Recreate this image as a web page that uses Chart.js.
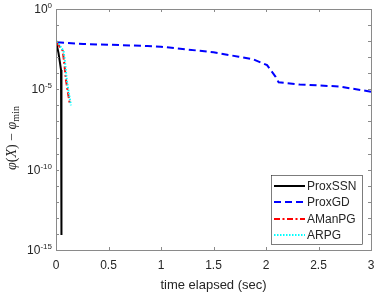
<!DOCTYPE html>
<html><head><meta charset="utf-8">
<script src="https://cdn.jsdelivr.net/npm/chart.js@4"></script>
<style>html,body{margin:0;padding:0;background:#fff;}#wrap{width:374px;height:293px;}</style>
</head><body><div id="wrap"><canvas id="c" width="374" height="293"></canvas></div>
<script>
const seriesNames = ['ProxSSN','ProxGD','AManPG','ARPG'];
const ssnTime = [0.003, 0.024, 0.038, 0.048, 0.051, 0.053];
const ssnGap  = [8.0e-3, 1.8e-3, 4.4e-4, 1.6e-4, 1e-8, 8.7e-15];
const gdTime = [0.01, 0.26, 0.5, 0.87, 1.0, 1.37, 1.5, 1.74, 1.88, 2.01, 2.09, 2.12, 2.32, 2.7, 3.0];
const gdGap  = [8.5e-3, 6.6e-3, 6.0e-3, 5.0e-3, 4.5e-3, 2.5e-3, 2.0e-3, 1.07e-3, 7.4e-4, 3.2e-4, 6.2e-5, 2.75e-5, 2.0e-5, 1.5e-5, 7.1e-6];
const amanTime = [0.005, 0.03, 0.05, 0.064, 0.079, 0.095, 0.117, 0.133];
const amanGap  = [8.0e-3, 5.0e-3, 3.5e-3, 2.5e-3, 4.2e-4, 3.8e-5, 4.5e-6, 1.07e-6];
const arpgTime = [0.01, 0.035, 0.055, 0.072, 0.087, 0.103, 0.125, 0.142];
const arpgGap  = [1e-2, 5.6e-3, 3.5e-3, 2.5e-3, 4.2e-4, 3.8e-5, 4.5e-6, 1e-6];
const xTicks = [0, 0.5, 1, 1.5, 2, 2.5, 3];
const yExponents = [0,-1,-2,-3,-4,-5,-6,-7,-8,-9,-10,-11,-12,-13,-14,-15];
const yLabelExponents = [0,-5,-10,-15];

const pts = (t, v) => t.map((x, i) => ({x, y: v[i]}));
const styles = [
  {color:'#000000', dash:[], width:2},
  {color:'#0000ff', dash:[7,4], width:2},
  {color:'#ff0000', dash:[6,2.5,2,2.5], width:2},
  {color:'#00ffff', dash:[1.5,1.5], width:2}
];
const allData = [pts(ssnTime, ssnGap), pts(gdTime, gdGap), pts(amanTime, amanGap), pts(arpgTime, arpgGap)];

const TXT = '#262626';
const FONT = '"Liberation Sans", Arial, Helvetica, sans-serif';
const axColor = '#8a8a8a';

const deco = {
  id: 'deco',
  afterDraw(chart) {
    const ctx = chart.ctx, a = chart.chartArea;
    const xs = chart.scales.x, ys = chart.scales.y;
    ctx.save();
    ctx.strokeStyle = axColor; ctx.lineWidth = 1;
    ctx.strokeRect(Math.round(a.left)+0.5, Math.round(a.top)+0.5, Math.round(a.right-a.left), Math.round(a.bottom-a.top));
    ctx.beginPath();
    yExponents.forEach(e => {
      const y = Math.round(ys.getPixelForValue(Math.pow(10, e))) + 0.5;
      ctx.moveTo(a.left, y); ctx.lineTo(a.left + 3, y);
      ctx.moveTo(a.right, y); ctx.lineTo(a.right - 3, y);
    });
    xTicks.forEach(v => {
      const x = Math.round(xs.getPixelForValue(v)) + 0.5;
      ctx.moveTo(x, a.bottom); ctx.lineTo(x, a.bottom - 3);
      ctx.moveTo(x, a.top); ctx.lineTo(x, a.top + 3);
    });
    ctx.stroke();
    ctx.fillStyle = TXT;
    ctx.textBaseline = 'alphabetic';
    yLabelExponents.forEach(e => {
      const y = ys.getPixelForValue(Math.pow(10, e));
      const exp = String(e);
      ctx.font = '8px ' + FONT;
      const ew = ctx.measureText(exp).width;
      ctx.textAlign = 'right';
      ctx.fillText(exp, 52, y - 1);
      ctx.font = '12px ' + FONT;
      ctx.fillText('10', 52 - ew, y + 4);
    });
    ctx.save();
    ctx.translate(12, 138);
    ctx.rotate(-Math.PI/2);
    ctx.textAlign = 'left';
    const parts = [
      ['italic 14px "Liberation Serif", serif', 'φ', 0],
      ['14px "Liberation Serif", serif', '(', 0],
      ['italic 14px "Liberation Serif", serif', 'X', 0],
      ['14px "Liberation Serif", serif', ') − ', 0],
      ['italic 14px "Liberation Serif", serif', 'φ', 0],
      ['10px "Liberation Serif", serif', 'min', 3]
    ];
    let total = 0;
    parts.forEach(p => { ctx.font = p[0]; total += ctx.measureText(p[1]).width; });
    let cx = -total/2;
    parts.forEach(p => { ctx.font = p[0]; ctx.fillText(p[1], cx, 4 + p[2]); cx += ctx.measureText(p[1]).width; });
    ctx.restore();
    const lx = 271, ly = 175, lw = 91, lh = 69;
    ctx.fillStyle = '#ffffff';
    ctx.fillRect(lx, ly, lw, lh);
    ctx.strokeStyle = '#262626'; ctx.lineWidth = 0.6;
    ctx.strokeRect(lx + 0.5, ly + 0.5, lw, lh);
    const rows = [186, 202, 219, 235];
    seriesNames.forEach((name, i) => {
      const s = styles[i];
      ctx.strokeStyle = s.color; ctx.lineWidth = s.width; ctx.setLineDash(s.dash);
      ctx.beginPath(); ctx.moveTo(274, rows[i]); ctx.lineTo(305, rows[i]); ctx.stroke();
      ctx.setLineDash([]);
      ctx.fillStyle = TXT; ctx.font = '12px ' + FONT; ctx.textAlign = 'left'; ctx.textBaseline = 'middle';
      ctx.fillText(name, 307, rows[i] + 0.5);
    });
    ctx.restore();
  }
};

new Chart(document.getElementById('c'), {
  type: 'line',
  data: {
    datasets: seriesNames.map((name, i) => ({
      label: name,
      data: allData[i],
      borderColor: styles[i].color,
      borderDash: styles[i].dash,
      borderWidth: styles[i].width,
      pointRadius: 0,
      tension: 0,
      fill: false,
      order: 4 - i
    }))
  },
  options: {
    responsive: false,
    animation: false,
    devicePixelRatio: 1,
    layout: { padding: { top: 9, right: 3, left: 0, bottom: 0 } },
    plugins: { legend: { display: false }, tooltip: { enabled: false } },
    scales: {
      x: {
        type: 'linear', min: 0, max: 3,
        afterBuildTicks: s => { s.ticks = xTicks.map(v => ({value: v})); },
        ticks: { color: TXT, font: { size: 12, family: FONT }, padding: 8, maxRotation: 0,
                 callback: v => String(v) },
        grid: { display: false, drawTicks: false },
        border: { display: false },
        title: { display: true, text: 'time elapsed (sec)', color: TXT, font: { size: 13, family: FONT }, padding: { top: 2, bottom: 0 } },
        afterFit: s => { s.height = 43; s.paddingLeft = 0; s.paddingRight = 0; }
      },
      y: {
        type: 'logarithmic', min: 1e-15, max: 1,
        afterBuildTicks: s => { s.ticks = yExponents.map(e => ({value: Math.pow(10, e)})); },
        ticks: { display: false },
        grid: { display: false, drawTicks: false },
        border: { display: false },
        afterFit: s => { s.width = 56; s.paddingTop = 0; s.paddingBottom = 0; }
      }
    }
  },
  plugins: [deco]
});
</script>
</body></html>
